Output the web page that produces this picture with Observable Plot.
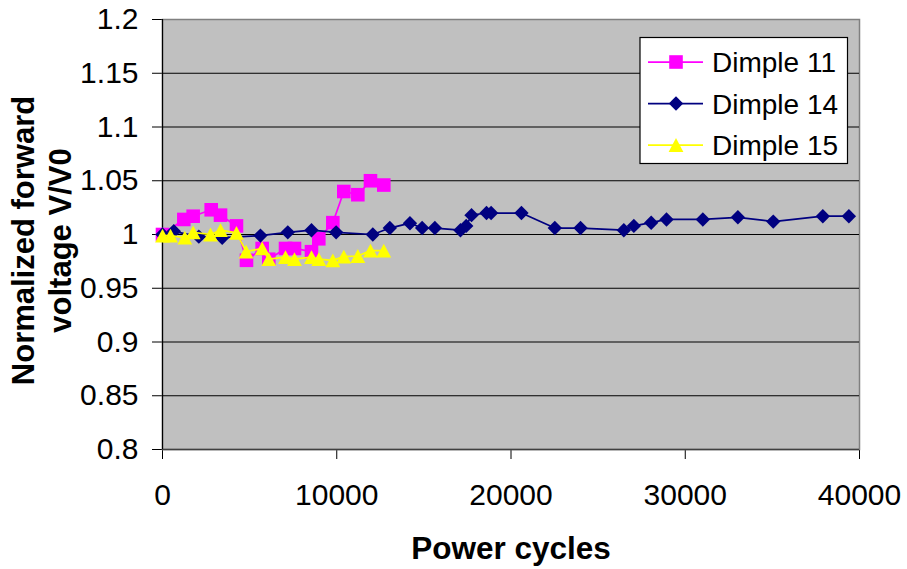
<!DOCTYPE html>
<html>
<head>
<meta charset="utf-8">
<script src="https://cdn.jsdelivr.net/npm/d3@7"></script>
<script src="https://cdn.jsdelivr.net/npm/@observablehq/plot@0.6"></script>
<style>
  html, body { margin: 0; padding: 0; background: #fff; }
  #chart { width: 907px; height: 569px; }
</style>
</head>
<body>
<div id="chart"></div>
<script>
// Power-cycling results: forward voltage normalised to its initial value
const seriesNames = ["Dimple 11", "Dimple 14", "Dimple 15"];
const seriesColors = ["#ff00ff", "#000080", "#ffff00"];

const dimple11Cycles = [0, 1225, 1760, 2795, 3330, 4245, 4820, 5720, 6100, 7060, 7575, 8550, 8970, 9775, 10405, 11210, 11935, 12700];
const dimple11Values = [1.0, 1.014, 1.017, 1.023, 1.018, 1.008, 0.976, 0.987, 0.977, 0.987, 0.987, 0.984, 0.996, 1.011, 1.040, 1.037, 1.050, 1.046];

const dimple14Cycles = [0, 650, 2085, 3425, 5620, 7190, 8550, 9965, 12070, 13045, 14200, 14900, 15630, 17100, 17430, 17735, 18595, 18860, 20600, 22515, 23990, 26475, 27050, 28045, 28925, 31010, 33020, 35050, 37895, 39390];
const dimple14Values = [1.0, 1.003, 0.998, 0.997, 0.999, 1.002, 1.004, 1.002, 1.0, 1.006, 1.0105, 1.006, 1.006, 1.004, 1.008, 1.018, 1.020, 1.020, 1.020, 1.006, 1.006, 1.004, 1.008, 1.011, 1.014, 1.014, 1.016, 1.012, 1.017, 1.017];

const dimple15Cycles = [0, 460, 1280, 1760, 2755, 3330, 4245, 4800, 5720, 6100, 7060, 7575, 8550, 8970, 9775, 10405, 11210, 11935, 12700];
const dimple15Values = [0.999, 0.999, 0.997, 1.002, 1.0, 1.004, 1.0015, 0.984, 0.987, 0.977, 0.979, 0.977, 0.979, 0.977, 0.976, 0.9795, 0.980, 0.985, 0.985];

const xTicks = [0, 10000, 20000, 30000, 40000];
const yTicks = [0.8, 0.85, 0.9, 0.95, 1.0, 1.05, 1.1, 1.15, 1.2];

// Spreadsheet-style marker shapes (r = sqrt(size / PI))
const squareSym = { draw(ctx, size) { const r = Math.sqrt(size / Math.PI); ctx.rect(-r, -r, 2 * r, 2 * r); } };
const diamondSym = { draw(ctx, size) { const r = Math.sqrt(size / Math.PI); ctx.moveTo(0, -r); ctx.lineTo(r, 0); ctx.lineTo(0, r); ctx.lineTo(-r, 0); ctx.closePath(); } };
const triangleSym = { draw(ctx, size) { const r = Math.sqrt(size / Math.PI); ctx.moveTo(0, -r * 0.93); ctx.lineTo(r, r * 0.93); ctx.lineTo(-r, r * 0.93); ctx.closePath(); } };
const symbols = [squareSym, diamondSym, triangleSym];
const symbolR = [6.8, 7.2, 7.4];

const series = [
  [dimple11Cycles, dimple11Values],
  [dimple14Cycles, dimple14Values],
  [dimple15Cycles, dimple15Values]
].map(([xs, ys], i) => xs.map((x, j) => ({ name: seriesNames[i], cycles: x, value: ys[j] })));

const font = "Arial, 'Liberation Sans', sans-serif";
const tickFont = 30;

const seriesMarks = series.flatMap((rows, i) => [
  Plot.line(rows, { x: "cycles", y: "value", stroke: seriesColors[i], strokeWidth: 1.75 }),
  Plot.dot(rows, { x: "cycles", y: "value", symbol: () => symbols[i], r: symbolR[i], fill: seriesColors[i], stroke: "none" })
]);

const fmtX = d => String(d);
const fmtY = d => String(+d.toFixed(2));

const chart = Plot.plot({
  width: 907,
  height: 569,
  marginLeft: 162,
  marginRight: 48,
  marginTop: 19,
  marginBottom: 120,
  style: { fontFamily: font, fontSize: tickFont + "px", background: "#ffffff", color: "#000" },
  x: { domain: [0, 40000], ticks: xTicks, tickFormat: fmtX, tickSize: 10, tickPadding: 24, label: null },
  y: { domain: [0.8, 1.2], ticks: yTicks, tickFormat: fmtY, tickSize: 10, tickPadding: 14, label: null },
  marks: [
    Plot.frame({ fill: "#c0c0c0", stroke: "#808080", strokeWidth: 1.5 }),
    Plot.ruleY(yTicks.slice(1, -1), { stroke: "#000", strokeWidth: 1 }),
    Plot.ruleY([0.8], { stroke: "#404040", strokeWidth: 1.5 }),
    Plot.ruleX([0], { stroke: "#000", strokeWidth: 1.2 }),
    ...seriesMarks,
    Plot.text(["Power cycles"], { text: d => d, frameAnchor: "bottom", lineAnchor: "middle", textAnchor: "middle", dy: 99, fontWeight: "bold", fontSize: 31.5, fill: "#000" }),
    Plot.text(["Normalized forward\nvoltage V/V0"], { text: d => d, frameAnchor: "left", textAnchor: "middle", lineAnchor: "middle", rotate: -90, dx: -122, dy: 6, fontWeight: "bold", fontSize: 31, lineHeight: 1.2, fill: "#000" })
  ]
});

const svg = d3.select(chart.tagName.toLowerCase() === "svg" ? chart : chart.querySelector("svg"));

// Enlarge the tick labels of both axes
const tickLabels = new Set([...xTicks.map(fmtX), ...yTicks.map(fmtY)]);
svg.selectAll("text").each(function () {
  if (tickLabels.has(this.textContent.trim())) {
    this.setAttribute("font-size", tickFont);
    this.style.setProperty("font-size", tickFont + "px", "important");
    this.style.setProperty("font-family", font);
  }
});

// Legend box in the upper right of the plot area
const legend = svg.append("g").attr("font-family", font).attr("text-anchor", "start");
legend.append("rect").attr("x", 640).attr("y", 37.5).attr("width", 207.5).attr("height", 126)
  .attr("fill", "#fff").attr("stroke", "#000").attr("stroke-width", 1.2);
seriesNames.forEach((name, i) => {
  const cy = 62 + i * 41.5;
  legend.append("line").attr("x1", 648).attr("x2", 703).attr("y1", cy).attr("y2", cy)
    .attr("stroke", seriesColors[i]).attr("stroke-width", 1.75);
  legend.append("path").attr("transform", `translate(676,${cy})`)
    .attr("d", d3.symbol(symbols[i], Math.PI * symbolR[i] * symbolR[i])())
    .attr("fill", seriesColors[i]);
  legend.append("text").attr("x", 712).attr("y", cy).attr("dy", "0.36em")
    .attr("text-anchor", "start").attr("font-size", 28).attr("fill", "#000").text(name);
});

document.getElementById("chart").appendChild(chart);
</script>
</body>
</html>
